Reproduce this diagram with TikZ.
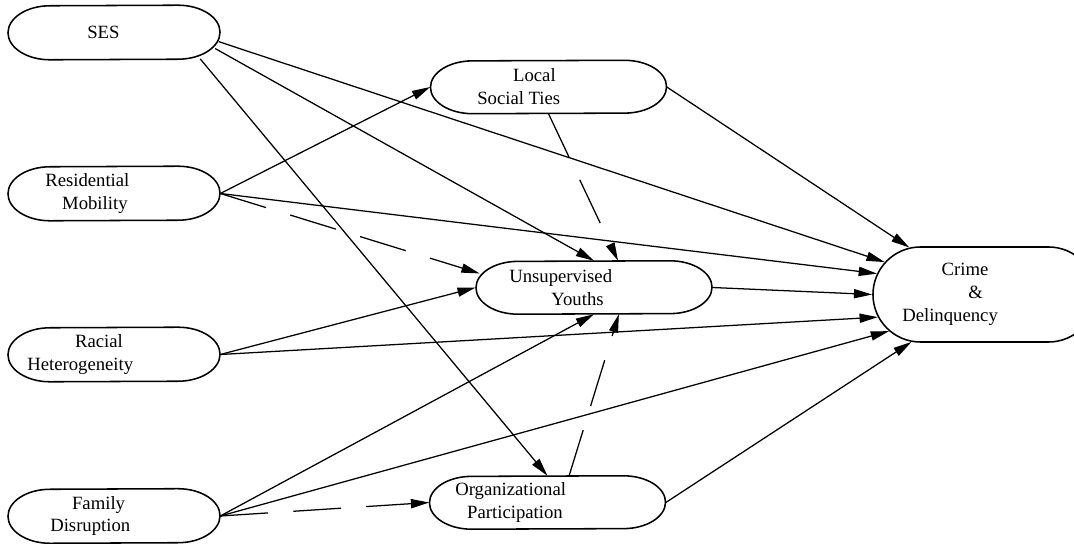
\documentclass[tikz,border=0pt]{standalone}
\usepackage{fontspec}
\setmainfont{Liberation Serif}
\usepackage{tikz}
\usetikzlibrary{shapes.misc}
\usetikzlibrary{arrows.meta}
\tikzset{>={Triangle[length=13pt,width=6.5pt]}}
\tikzstyle{factor} = [rounded rectangle, minimum width=5.3cm, minimum height=1.35cm, inner sep=0pt]
\tikzstyle{mediator} = [factor, minimum width=5.9cm, minimum height=1.32cm]
\tikzstyle{outcome} = [factor, draw=black, line width=1.1pt, minimum width=5.575cm, minimum height=2.375cm]
\tikzstyle{rim} = [draw=black, line width=1.1pt]
\tikzstyle{txt} = [anchor=west, align=left, inner sep=0pt, font=\fontsize{13.3}{16.3}\selectfont]
\tikzstyle{arrow} = [line width=0.9pt,->]
\tikzstyle{darrow} = [arrow, dash pattern=on 34pt off 18pt]

\begin{document}
\begin{tikzpicture}[x=0.025cm, y=-0.025cm]
    \useasboundingbox (0,0) rectangle (1074,544);
    \clip (0,0) rectangle (1074,544);

    % exogenous
    \node[factor] (ses) at (114,32.5) {};
    \node[factor] (mob) at (114,193.5) {};
    \node[factor] (het) at (114,354.5) {};
    \node[factor] (fam) at (114,516) {};
    % mediators and outcome
    \node[mediator] (ties) at (548.5,87) {};
    \node[mediator] (youth) at (594,287.5) {};
    \node[mediator] (org) at (547.5,502.5) {};
    \node[outcome] (crime) at (984.5,294.5) {};

    % outlines with flat ends
    \foreach \n/\dx/\ry in {ses/1.6cm/0.675cm, mob/1.6cm/0.675cm, het/1.6cm/0.675cm, fam/1.6cm/0.675cm,
                            ties/1.9cm/0.66cm, youth/1.9cm/0.66cm, org/1.9cm/0.66cm}
        \draw[rim] ([xshift=\dx]\n.north) arc[start angle=90, end angle=-90, x radius=1.05cm, y radius=\ry]
            -- ([xshift=-\dx]\n.south) arc[start angle=270, end angle=90, x radius=1.05cm, y radius=\ry] -- cycle;

    \node[txt] (ses-t) at (87,32.5) {SES};
    \node[txt] (mob-t) at (45,193.5) {Residential\\\hspace*{12pt}Mobility};
    \node[txt] (het-t) at (27,354.5) {\hspace*{34pt}Racial\\Heterogeneity};
    \node[txt] (fam-t) at (50,516) {\hspace*{15.5pt}Family\\Disruption};
    \node[txt] (ties-t) at (477,87) {\hspace*{25.5pt}Local\\Social Ties};
    \node[txt] (youth-t) at (509,287.5) {Unsupervised\\\hspace*{30pt}Youths};
    \node[txt] (org-t) at (455,502.5) {Organizational\\\hspace*{8.5pt}Participation};
    \node[txt] (crime-t) at (902,294.5) {\hspace*{28pt}Crime\\\hspace*{47pt}\&\\Delinquency};

    \draw[arrow] (ses.355) -- (crime.162);
    \draw[arrow] (ses.351) -- (youth.north);
    \draw[arrow] (ses.343) -- (org.north);
    \draw[arrow] (mob.east) -- (ties.west);
    \draw[arrow] (mob.east) -- (crime.169);
    \draw[darrow] (mob.east) -- (youth.173);
    \draw[arrow] (het.east) -- (youth.west);
    \draw[arrow] (het.east) -- (crime.192);
    \draw[arrow] (fam.east) -- (youth.south);
    \draw[arrow] (fam.east) -- (crime.201);
    \draw[darrow] (fam.east) -- (org.west);
    \draw[darrow] (ties.south) -- (youth.48);
    \draw[arrow] (ties.east) -- (crime.148);
    \draw[darrow] (org.51) -- (youth.313);
    \draw[arrow] (org.east) -- (crime.213);
    \draw[arrow] (youth.east) -- (crime.west);

\end{tikzpicture}
\end{document}
